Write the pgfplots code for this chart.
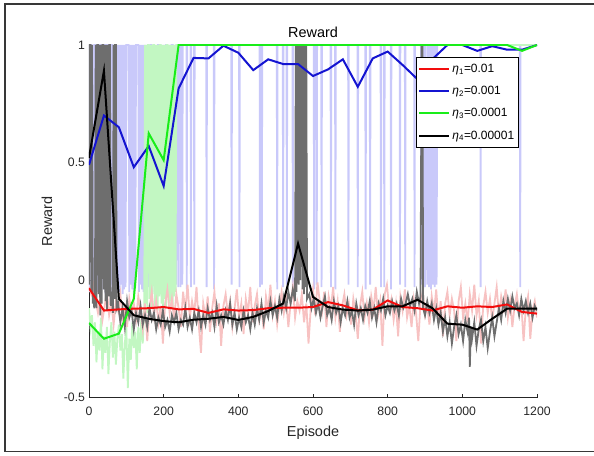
\documentclass[border=0pt]{standalone}
\usepackage{fontspec}
\setmainfont{Liberation Sans}
\usepackage{pgfplots}
\pgfplotsset{compat=1.18}

\definecolor{axgray}{rgb}{0.15,0.15,0.15}
\definecolor{rawred}{rgb}{0.97,0.76,0.76}
\definecolor{rawblue}{rgb}{0.79,0.79,0.98}
\definecolor{rawgreen}{rgb}{0.76,0.97,0.76}
\definecolor{rawgray}{rgb}{0.43,0.43,0.43}
\definecolor{lred}{rgb}{0.95,0.05,0.05}
\definecolor{lblue}{rgb}{0.08,0.08,0.82}
\definecolor{lgreen}{rgb}{0.1,0.93,0.1}

\begin{document}
\begin{tikzpicture}
\useasboundingbox (-89bp,-58.5bp) rectangle (505bp,397.5bp);
% figure frame
\draw[color=black!78, line width=1.3bp] (506bp,393.5bp) -- (-84bp,393.5bp) -- (-84bp,-54.2bp) -- (506bp,-54.2bp);

\begin{axis}[
  at={(0bp,0bp)}, anchor=south west,
  width=448bp, height=352.5bp, scale only axis,
  xmin=0, xmax=1200, ymin=-0.5, ymax=1,
  axis x line*=bottom, axis y line*=left,
  axis line style={color=axgray, line width=0.8bp},
  xtick={0,200,400,600,800,1000,1200},
  xticklabels={0,200,400,600,800,1000,1200},
  ytick={-0.5,0,0.5,1},
  yticklabels={-0.5,0,0.5,1},
  tick align=inside,
  major tick length=3.5bp,
  tick style={color=axgray, line width=0.7bp},
  /pgf/number format/assume math mode=true,
  tick label style={font=\fontsize{12.3}{14}\selectfont, text=axgray},
  xticklabel style={yshift=-6bp},
  yticklabel style={xshift=-0.5bp},
  title={Reward},
  every axis title shift=0pt,
  title style={at={(axis description cs:0.5,1)}, anchor=base, yshift=7bp,
               font=\fontsize{14.5}{17}\selectfont, text=black},
  xlabel={Episode},
  ylabel={Reward},
  xlabel style={at={(axis description cs:0.5,-0.1007)}, anchor=center,
                font=\fontsize{14.5}{17}\selectfont, text=axgray},
  ylabel style={at={(axis description cs:-0.0938,0.5)}, anchor=center,
                font=\fontsize{14.5}{17}\selectfont, text=axgray},
  legend style={at={(axis description cs:0.730,0.966)}, anchor=north west,
                draw=black, line width=0.8bp, fill=white,
                font=\fontsize{12}{14}\selectfont,
                inner xsep=2bp, inner ysep=4.5bp, row sep=8.5bp,
                cells={anchor=west}},
  legend image code/.code={\draw[#1] (0bp,0bp) -- (30bp,0bp);},
]

% ---------------- raw episode rewards ----------------
% eta_2 = 0.001
\addplot[rawblue, line width=1.8bp, forget plot] coordinates {
(0,1)(2,-0.05)(4,1)(6,1)(8,-0.03)(10,1)(12,-0.06)(14,1)(16,1)(18,1)(20,-0.04)(22,1)(24,-0.05)(26,1)(28,1)(30,-0.02)(32,1)(34,1)(36,1)(38,-0.04)(40,1)(42,1)(44,-0.06)(46,1)(48,1)(50,1)(52,-0.03)(54,1)(56,1)(58,-0.05)(60,1)(62,1)(64,-0.02)(66,1)(68,-0.04)(70,1)(72,1)(74,-0.05)(76,1)(78,-0.03)(80,1)
(82,-0.05)(84,1)(86,-0.02)(88,1)(90,-0.06)(92,1)(94,-0.04)(96,1)(98,-0.03)(100,1)(102,1)(104,1)(106,1)(108,-0.05)(110,1)(112,-0.02)(114,1)(116,-0.04)(118,1)(120,-0.06)(122,1)(124,-0.03)(126,1)(128,1)(130,1)(132,1)(134,-0.05)(136,1)(138,-0.02)(140,1)(142,-0.04)(144,1)(146,-0.05)(148,1)(150,-0.02)
(152,1)(155,-0.04)(158,1)(161,-0.03)(164,1)(167,1)(170,-0.05)(173,1)(176,-0.02)(179,1)(182,-0.04)(185,1)(188,1)(191,-0.03)(194,1)(197,-0.05)(200,1)(203,-0.02)(206,1)(209,1)(212,-0.04)(215,1)(218,-0.03)(221,1)(224,1)(227,-0.05)(230,1)(233,-0.02)(236,1)
(238,1)(239,-0.03)(240,1)(244,1)(245,-0.03)(246,1)(249,1)(250,-0.02)(251,1)(261,1)(262,-0.04)(263,1)(272,1)(273,-0.03)(274,1)(281,1)(282,-0.02)(283,1)
(314,1)(315,-0.03)(316,1)(334,1)(335,-0.04)(336,1)(381,1)(382,-0.02)(383,1)(402,1)(403,-0.03)(404,1)
(457,1)(458,-0.03)(459,1)(462,1)(463,-0.02)(464,1)(503,1)(504,-0.04)(505,1)(519,1)(520,-0.03)(521,1)(529,1)(530,-0.02)(531,1)(545,1)(546,-0.03)(547,1)
(602,1)(603,-0.04)(604,1)(609,1)(610,-0.02)(611,1)(622,1)(623,-0.03)(624,1)(647,1)(648,-0.03)(649,1)(659,1)(660,-0.04)(661,1)(694,1)(695,-0.02)(696,1)
(719,1)(720,-0.03)(721,1)(740,1)(741,-0.04)(742,1)(752,1)(753,-0.02)(754,1)(781,1)(782,-0.03)(783,1)(790,1)(791,-0.03)(792,1)(808,1)(809,-0.04)(810,1)
(832,1)(833,-0.02)(834,1)(846,1)(847,-0.03)(848,1)(871,1)(872,-0.03)(873,1)
(889,1)(890,-0.02)(892,1)(895,-0.04)(897,1)(900,-0.03)(902,1)(906,-0.02)(908,1)(911,-0.03)(913,1)(916,-0.04)(918,1)(921,-0.02)(923,1)(926,-0.03)(928,1)(931,-0.02)(933,1)
(1048,1)(1049,-0.03)(1050,1)(1154,1)(1155,-0.03)(1156,1)(1200,1)
};

% eta_3 = 0.0001
\addplot[rawgreen, line width=1.8bp, forget plot] coordinates {
(0,-0.12)(4,-0.2)(8,-0.15)(12,-0.28)(16,-0.18)(20,-0.35)(24,-0.22)(28,-0.3)(32,-0.16)(36,-0.38)(40,-0.24)(44,-0.31)(48,-0.2)(52,-0.4)(56,-0.26)(60,-0.18)(64,-0.33)(68,-0.22)(72,-0.36)(76,-0.25)
(80,-0.19)(84,-0.3)(88,-0.23)(92,-0.42)(96,-0.27)(100,-0.2)(104,-0.46)(108,-0.25)(112,-0.34)(116,-0.18)(120,-0.29)(124,-0.22)(128,-0.38)(132,-0.2)(136,-0.31)(140,-0.17)(144,-0.27)(148,-0.12)
(150,1)(152,-0.1)(154,1)(156,-0.14)(158,1)(160,1)(162,-0.08)(164,1)(166,-0.12)(168,1)(170,-0.06)(172,1)(174,1)(176,-0.11)(178,1)(180,-0.09)(182,1)(184,-0.13)(186,1)(188,-0.07)(190,1)
(192,1)(194,-0.1)(196,1)(198,-0.12)(200,1)(202,-0.08)(204,1)(206,-0.11)(208,1)(210,1)(212,-0.06)(214,1)(216,-0.1)(218,1)(220,-0.09)(222,1)(224,-0.12)(226,1)(228,-0.07)(230,1)(232,-0.05)(234,1)(1200,1)
};

% eta_1 = 0.01
\addplot[rawred, line width=1.8bp, forget plot] coordinates {
(0,-0.03)(6,-0.06)(12,-0.02)(18,-0.09)(24,-0.14)(30,-0.08)(36,-0.17)(42,-0.11)(48,-0.05)(54,-0.15)(60,-0.1)(66,-0.19)(72,-0.09)(78,-0.13)(84,-0.06)(90,-0.16)(96,-0.12)(102,-0.2)(108,-0.08)(114,-0.14)
(120,-0.1)(126,-0.17)(132,-0.07)(138,-0.13)(144,-0.21)(150,-0.1)(156,-0.26)(162,-0.12)(168,-0.05)(174,-0.15)(180,-0.09)(186,-0.18)(192,-0.11)(198,-0.27)(204,-0.1)(210,-0.04)(216,-0.14)(222,-0.08)(228,-0.17)(234,-0.06)
(240,-0.12)(246,-0.2)(252,-0.05)(258,-0.13)(264,-0.02)(270,-0.16)(276,-0.09)(282,-0.14)(288,-0.03)(294,-0.19)(300,-0.31)(306,-0.1)(312,-0.16)(318,-0.07)(324,-0.22)(330,-0.12)(336,-0.05)(342,-0.17)(348,-0.1)(354,-0.28)
(360,-0.11)(366,-0.06)(372,-0.15)(378,-0.09)(384,-0.2)(390,-0.12)(396,-0.04)(402,-0.16)(408,-0.1)(414,-0.23)(420,-0.08)(426,-0.14)(432,-0.03)(438,-0.18)(444,-0.11)(450,-0.06)(456,-0.17)(462,-0.12)(468,-0.21)(474,-0.07)
(480,-0.13)(486,-0.02)(492,-0.15)(498,-0.09)(504,-0.19)(510,-0.11)(516,-0.05)(522,-0.14)(528,-0.08)(534,-0.2)(540,-0.1)(546,-0.03)(552,-0.16)(558,-0.09)(564,-0.13)(570,-0.06)(576,-0.18)(582,-0.1)(588,-0.27)(594,-0.12)
(600,-0.04)(606,-0.15)(612,-0.01)(618,-0.09)(624,-0.14)(630,-0.05)(636,-0.2)(642,-0.07)(648,-0.12)(654,-0.03)(660,-0.16)(666,-0.09)(672,-0.22)(678,-0.11)(684,-0.06)(690,-0.15)(696,-0.1)(702,-0.19)(708,-0.08)(714,-0.14)
(720,-0.25)(726,-0.11)(732,-0.05)(738,-0.16)(744,-0.1)(750,-0.18)(756,-0.07)(762,-0.13)(768,-0.03)(774,-0.15)(780,-0.09)(786,-0.28)(792,-0.06)(798,-0.02)(804,-0.12)(810,-0.08)(816,-0.17)(822,-0.1)(828,-0.24)(834,-0.07)
(840,-0.13)(846,-0.04)(852,-0.16)(858,-0.11)(864,-0.2)(870,-0.08)(876,-0.14)(882,-0.26)(888,-0.1)(894,-0.05)(900,-0.15)(906,-0.11)(912,-0.19)(918,-0.07)(924,-0.14)(930,-0.04)(936,-0.17)(942,-0.09)(948,-0.24)(954,-0.1)
(960,-0.05)(966,-0.15)(972,-0.08)(978,-0.13)(984,-0.26)(990,-0.09)(996,-0.03)(1002,-0.16)(1008,-0.1)(1014,-0.18)(1020,-0.06)(1026,-0.13)(1032,-0.02)(1038,-0.15)(1044,-0.09)(1050,-0.27)(1056,-0.11)(1062,-0.05)(1068,-0.14)(1074,-0.08)
(1080,-0.17)(1086,-0.1)(1092,-0.03)(1098,-0.15)(1104,-0.07)(1110,-0.12)(1116,-0.04)(1122,-0.16)(1128,-0.09)(1134,-0.2)(1140,-0.11)(1146,-0.06)(1152,-0.14)(1158,-0.1)(1164,-0.26)(1170,-0.12)(1176,-0.07)(1182,-0.25)(1188,-0.13)(1194,-0.09)(1200,-0.16)
};

% eta_4 = 0.00001
\addplot[rawgray, line width=1.8bp, forget plot] coordinates {
(0,-0.02)(2,1)(4,1)(6,-0.05)(8,1)(10,-0.1)(12,-0.06)(14,-0.12)(16,-0.08)(18,1)(20,-0.12)(22,1)(24,1)(26,-0.06)(28,1)(30,-0.15)(32,1)(34,-0.1)(36,1)(38,1)(40,-0.04)(42,1)(44,-0.09)(46,1)(48,-0.13)(50,1)(52,-0.07)(54,1)(56,1)(58,-0.11)(60,-0.05)(62,-0.09)(64,-0.14)(66,1)(68,-0.08)(70,1)(72,1)(74,-0.12)
(78,-0.1)(84,-0.18)(90,-0.12)(96,-0.2)(102,-0.09)(108,-0.16)(114,-0.13)(120,-0.21)(126,-0.14)(132,-0.18)(138,-0.11)(144,-0.19)(150,-0.15)(156,-0.2)(162,-0.12)(168,-0.17)(174,-0.14)(180,-0.21)(186,-0.16)(192,-0.19)
(198,-0.13)(204,-0.2)(210,-0.17)(216,-0.22)(222,-0.15)(228,-0.18)(234,-0.14)(240,-0.21)(246,-0.17)(252,-0.19)(258,-0.12)(264,-0.2)(270,-0.16)(276,-0.21)(282,-0.14)(288,-0.18)(294,-0.13)(300,-0.2)(306,-0.15)(312,-0.19)
(318,-0.12)(324,-0.17)(330,-0.14)(336,-0.2)(342,-0.11)(348,-0.18)(354,-0.15)(360,-0.19)(366,-0.13)(372,-0.17)(378,-0.1)(384,-0.19)(390,-0.14)(396,-0.21)(402,-0.16)(408,-0.2)(414,-0.13)(420,-0.18)(426,-0.15)(432,-0.21)
(438,-0.14)(444,-0.19)(450,-0.12)(456,-0.17)(462,-0.1)(468,-0.18)(474,-0.13)(480,-0.16)(486,-0.09)(492,-0.15)(498,-0.11)(504,-0.16)(510,-0.08)(516,-0.13)(522,-0.07)(528,-0.12)(534,-0.05)(540,-0.1)(546,-0.04)(552,-0.09)
(554,1)(556,-0.05)(558,1)(560,1)(562,-0.02)(564,1)(566,0.0)(568,1)(570,1)(572,-0.04)(574,1)(576,-0.06)(578,1)(580,-0.03)(582,1)(584,-0.08)
(590,-0.06)(596,-0.12)(602,-0.08)(608,-0.14)(614,-0.1)(620,-0.16)(626,-0.11)(632,-0.07)(638,-0.15)(644,-0.12)(650,-0.17)(656,-0.09)(662,-0.14)(668,-0.11)(674,-0.18)(680,-0.12)(686,-0.15)(692,-0.09)(698,-0.16)(704,-0.13)
(710,-0.19)(716,-0.1)(722,-0.15)(728,-0.12)(734,-0.17)(740,-0.11)(746,-0.14)(752,-0.09)(758,-0.16)(764,-0.12)(770,-0.18)(776,-0.1)(782,-0.13)(788,-0.08)(794,-0.15)(800,-0.11)(806,-0.14)(812,-0.09)(818,-0.13)(824,-0.1)
(830,-0.15)(836,-0.08)(842,-0.12)(848,-0.1)(854,-0.06)(860,-0.11)(866,-0.08)(872,-0.13)(878,-0.05)(884,-0.1)(888,-0.07)(891,1)(893,1)(895,-0.12)
(900,-0.15)(906,-0.09)(912,-0.14)(918,-0.1)(924,-0.17)(930,-0.12)(936,-0.19)(942,-0.14)(948,-0.22)(954,-0.16)(960,-0.24)(966,-0.18)(972,-0.27)(978,-0.2)(984,-0.15)(990,-0.23)(996,-0.19)(1002,-0.26)(1008,-0.17)(1014,-0.22)
(1018,-0.16)(1020,-0.37)(1023,-0.2)(1026,-0.25)(1032,-0.18)(1038,-0.28)(1044,-0.21)(1050,-0.17)(1056,-0.26)(1062,-0.2)(1068,-0.29)(1074,-0.22)(1080,-0.16)(1086,-0.24)(1092,-0.18)(1098,-0.12)
(1104,-0.17)(1110,-0.09)(1116,-0.14)(1122,-0.08)(1128,-0.13)(1134,-0.07)(1140,-0.12)(1146,-0.1)(1152,-0.15)(1158,-0.08)(1164,-0.13)(1170,-0.09)(1176,-0.14)(1182,-0.1)(1188,-0.16)(1194,-0.11)(1200,-0.13)
};

% ---------------- averaged rewards ----------------
\addplot[lred, line width=2bp] coordinates {
(0,-0.035)(40,-0.13)(80,-0.125)(120,-0.122)(160,-0.12)(200,-0.115)(240,-0.125)(280,-0.123)(320,-0.14)(360,-0.125)
(400,-0.13)(440,-0.128)(480,-0.12)(520,-0.118)(560,-0.118)(600,-0.115)(640,-0.094)(680,-0.108)(720,-0.129)(760,-0.126)
(800,-0.087)(840,-0.115)(880,-0.12)(920,-0.13)(960,-0.112)(1000,-0.118)(1040,-0.112)(1080,-0.115)(1120,-0.104)(1160,-0.136)(1200,-0.143)
};
\addlegendentry{\textit{η}\textsubscript{1}=0.01}

\addplot[lblue, line width=2bp] coordinates {
(0,0.49)(40,0.70)(80,0.65)(120,0.48)(160,0.57)(200,0.40)(240,0.815)(280,0.945)(320,0.943)(360,0.997)
(400,0.967)(440,0.893)(480,0.939)(520,0.919)(560,0.919)(600,0.868)(640,0.896)(680,0.939)(720,0.822)(760,0.943)
(800,0.972)(840,0.915)(880,0.854)(920,0.94)(960,1.0)(1000,1.0)(1040,0.975)(1080,0.995)(1120,0.98)(1160,0.98)(1200,1.0)
};
\addlegendentry{\textit{η}\textsubscript{2}=0.001}

\addplot[lgreen, line width=2bp] coordinates {
(0,-0.183)(40,-0.25)(80,-0.228)(120,-0.08)(160,0.624)(200,0.51)(240,1.0)(280,1.0)(320,1.0)(360,1.0)
(400,1.0)(440,1.0)(480,1.0)(520,1.0)(560,1.0)(600,1.0)(640,1.0)(680,1.0)(720,1.0)(760,1.0)
(800,1.0)(840,1.0)(880,1.0)(920,1.0)(960,1.0)(1000,1.0)(1040,1.0)(1080,1.0)(1120,1.0)(1160,0.975)(1200,1.0)
};
\addlegendentry{\textit{η}\textsubscript{3}=0.0001}

\addplot[black, line width=2bp] coordinates {
(0,0.52)(40,0.89)(80,-0.08)(120,-0.15)(160,-0.165)(200,-0.175)(240,-0.18)(280,-0.169)(320,-0.165)(360,-0.157)
(400,-0.17)(440,-0.157)(480,-0.132)(520,-0.1)(560,0.155)(600,-0.072)(640,-0.115)(680,-0.126)(720,-0.13)(760,-0.126)
(800,-0.112)(840,-0.112)(880,-0.084)(920,-0.12)(960,-0.186)(1000,-0.19)(1040,-0.211)(1080,-0.165)(1120,-0.122)(1160,-0.122)(1200,-0.122)
};
\addlegendentry{\textit{η}\textsubscript{4}=0.00001}

\end{axis}
\end{tikzpicture}
\end{document}
